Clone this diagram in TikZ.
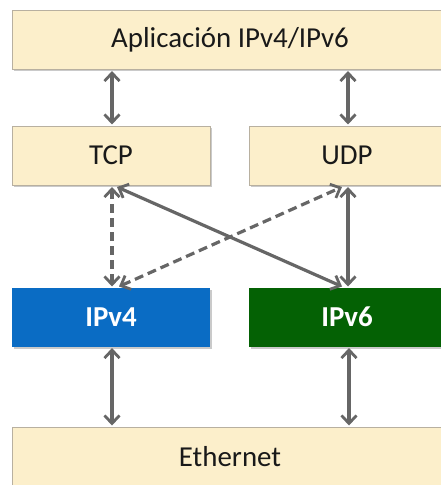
\documentclass[tikz,border=0pt]{standalone}
\usepackage{fontspec}
\setmainfont{Carlito}
\usetikzlibrary{arrows.meta,shadows}
\definecolor{beige}{HTML}{FCEFCB}
\definecolor{beigeline}{HTML}{B8B0A0}
\definecolor{ipvfour}{HTML}{0A6CC4}
\definecolor{ipvsix}{HTML}{046104}
\definecolor{arrowgray}{HTML}{666666}
\tikzset{
  layer/.style={draw=beigeline, line width=0.8bp, fill=beige, minimum height=59bp,
    inner sep=0pt, font=\fontsize{29}{33}\selectfont, text=black!90,
    drop shadow={shadow xshift=2bp, shadow yshift=-2bp, opacity=0.35, fill=black!60}},
  iplayer/.style={layer, draw=none, text=white, font=\fontsize{29}{33}\selectfont\bfseries},
  link/.style={draw=arrowgray, line width=3.2bp,
    {Straight Barb[length=8bp,width=15bp,line width=2.8bp]}-{Straight Barb[length=8bp,width=15bp,line width=2.8bp]}},
  dlink/.style={link, dash pattern=on 9bp off 5bp}
}
\begin{document}
\begin{tikzpicture}[x=1bp,y=-1bp]
\useasboundingbox (0,0) rectangle (441,485);
\clip (0,0) rectangle (441,485);
\node[layer, minimum width=436bp] (app) at (230,39.5) {Aplicación IPv4/IPv6};
\node[layer, minimum width=198bp] (tcp) at (111,155.5) {TCP};
\node[layer, minimum width=196bp] (udp) at (347,155.5) {UDP};
\node[iplayer, fill=ipvfour, minimum width=198bp] (v4) at (111,317) {IPv4};
\node[iplayer, fill=ipvsix, minimum width=196bp] (v6) at (347,317) {IPv6};
\node[layer, minimum width=436bp, minimum height=60bp] (eth) at (230,457) {Ethernet};
% anchor points
\coordinate (a1) at (112,71);
\coordinate (a2) at (348,71);
\coordinate (t1) at (112,124.5);
\coordinate (t2) at (348,124.5);
\coordinate (tb) at (112,187);
\coordinate (tbx) at (117,187);
\coordinate (ub) at (348,187);
\coordinate (ubx) at (342,187);
\coordinate (i4t) at (112,286.5);
\coordinate (i4tx) at (119,286.5);
\coordinate (i6t) at (348,286.5);
\coordinate (i6tx) at (342,286.5);
\coordinate (i4b) at (112,348);
\coordinate (i6b) at (349,348);
\coordinate (e1) at (112,425.5);
\coordinate (e2) at (349,425.5);
\draw[link] (a1) -- (t1);
\draw[link] (a2) -- (t2);
\draw[dlink] (tb) -- (i4t);
\draw[link] (tbx) -- (i6tx);
\draw[dlink] (i4tx) -- (ubx);
\draw[link] (ub) -- (i6t);
\draw[link] (i4b) -- (e1);
\draw[link] (i6b) -- (e2);
\end{tikzpicture}
\end{document}
